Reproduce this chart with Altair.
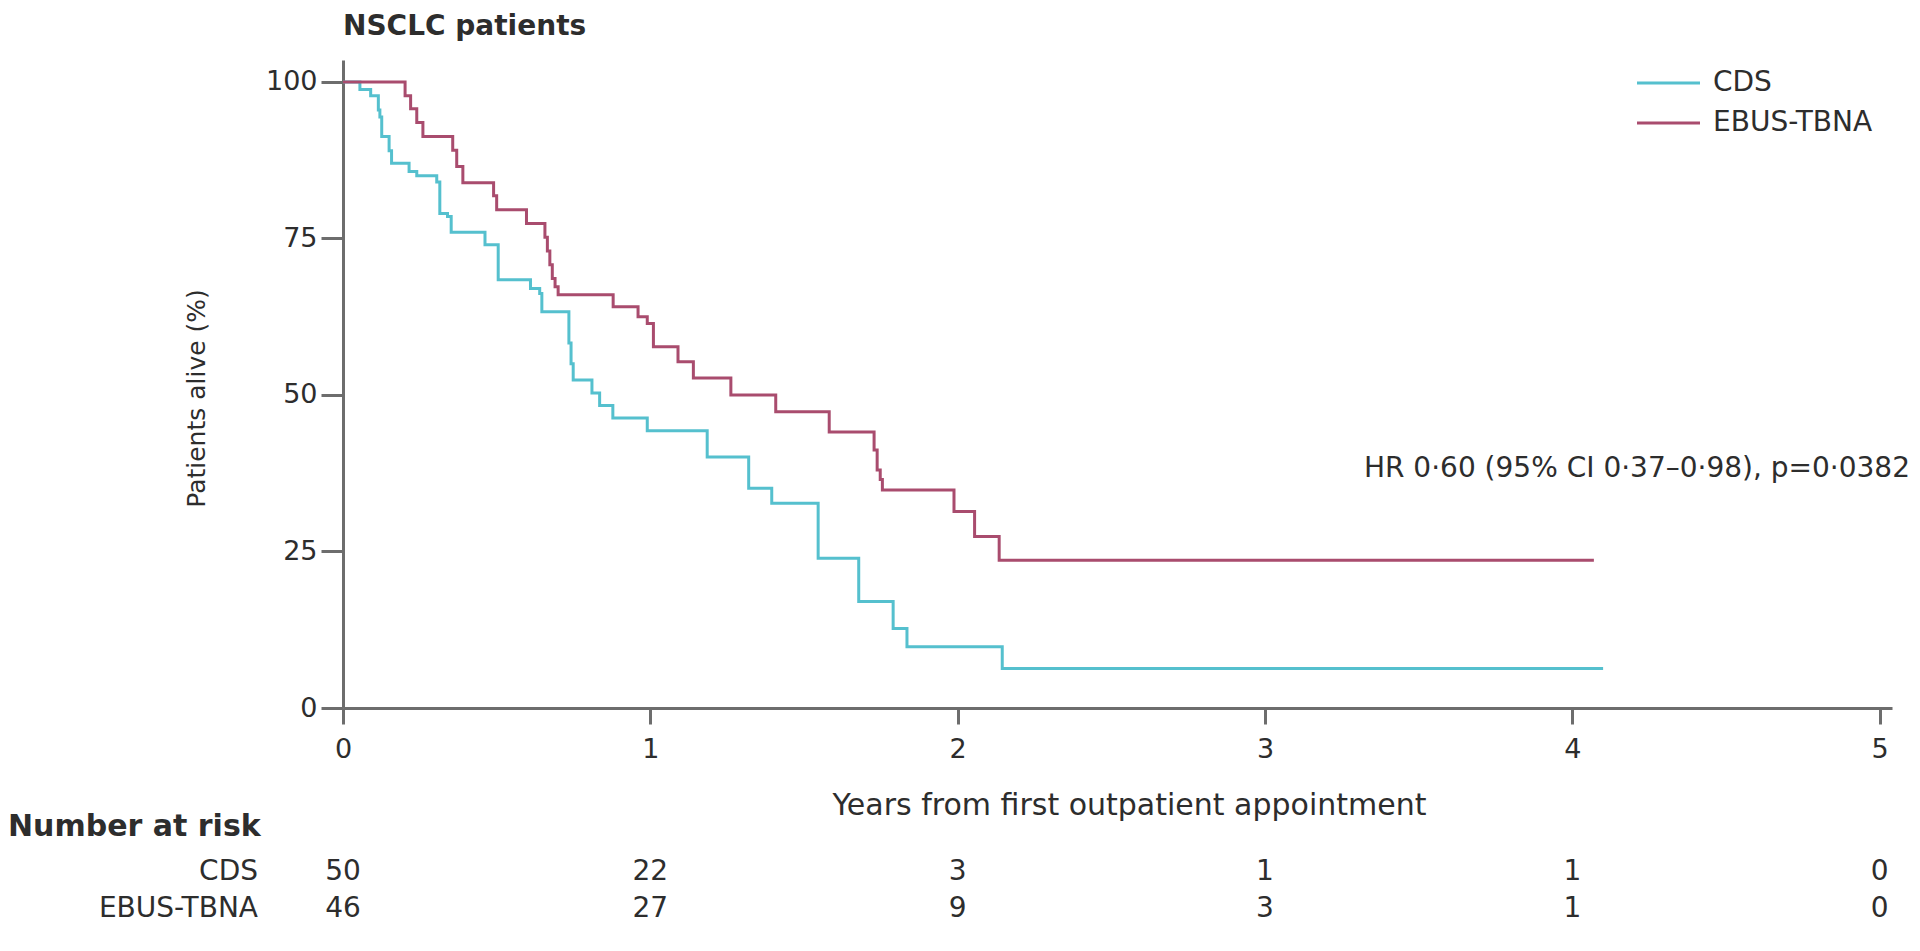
import altair as alt
import pandas as pd

# ---- data ----
series = ["CDS", "EBUS-TBNA"]
colors = ["#55c0ce", "#a94c6e"]

cds_years = [0, 0.055, 0.09, 0.115, 0.12, 0.126, 0.15, 0.158, 0.215, 0.24, 0.305, 0.315,
             0.34, 0.352, 0.462, 0.505, 0.61, 0.64, 0.647, 0.735, 0.742, 0.749, 0.81,
             0.835, 0.878, 0.99, 1.185, 1.32, 1.395, 1.546, 1.678, 1.79, 1.835, 2.145, 4.10]
cds_surv = [100, 98.8, 97.8, 95.5, 94.4, 91.3, 89.0, 87.0, 85.7, 85.0, 84.0, 79.0,
            78.5, 76.0, 74.0, 68.4, 67.0, 66.2, 63.3, 58.3, 55.0, 52.4, 50.3,
            48.3, 46.3, 44.3, 40.1, 35.1, 32.7, 23.9, 17.0, 12.7, 9.8, 6.3, 6.3]

ebus_years = [0, 0.202, 0.22, 0.24, 0.26, 0.357, 0.37, 0.39, 0.49, 0.50, 0.597, 0.657,
              0.665, 0.673, 0.681, 0.69, 0.70, 0.879, 0.96, 0.99, 1.01, 1.09, 1.14, 1.262,
              1.408, 1.582, 1.728, 1.738, 1.748, 1.755, 1.988, 2.055, 2.135, 4.07]
ebus_surv = [100, 97.8, 95.7, 93.5, 91.3, 89.1, 86.5, 83.9, 81.8, 79.6, 77.4, 75.2,
             73.0, 70.8, 68.6, 67.3, 66.0, 64.1, 62.5, 61.4, 57.7, 55.3, 52.7, 50.0,
             47.3, 44.1, 41.2, 38.0, 36.5, 34.8, 31.4, 27.4, 23.6, 23.6]

risk_years = [0, 1, 2, 3, 4, 5]
risk_cds = [50, 22, 3, 1, 1, 0]
risk_ebus = [46, 27, 9, 3, 1, 0]

x_ticks = [0, 1, 2, 3, 4, 5]
y_ticks = [0, 25, 50, 75, 100]

title_text = "NSCLC patients"
x_title = "Years from first outpatient appointment"
y_title = "Patients alive (%)"
hr_text = "HR 0·60 (95% CI 0·37–0·98), p=0·0382"
risk_header = "Number at risk"

# ---- styling ----
W, H = 1549, 648
FONT = "DejaVu Sans"
TEXT = "#2d2d2d"
AXIS = "#6d6d6d"

curves = pd.concat([
    pd.DataFrame({"year": cds_years, "surv": cds_surv, "group": "CDS"}),
    pd.DataFrame({"year": ebus_years, "surv": ebus_surv, "group": "EBUS-TBNA"}),
])

xscale = alt.Scale(domain=[0, 5.04], nice=False, zero=False)
yscale = alt.Scale(domain=[0, 103.5], nice=False)
cscale = alt.Scale(domain=series, range=colors)

x_axis = alt.Axis(values=x_ticks, format="d", title=x_title, grid=False, domainColor=AXIS,
                  domainWidth=3, tickColor=AXIS, tickWidth=3, tickSize=16, labelFontSize=27,
                  labelFont=FONT, labelColor=TEXT, labelPadding=12, labelFlush=False,
                  titleFont=FONT, titleFontSize=30, titleFontWeight="normal", titleColor=TEXT,
                  titlePadding=28, titleX=786)
y_axis = alt.Axis(values=y_ticks, format="d", title=y_title, grid=False, domainColor=AXIS,
                  domainWidth=3, tickColor=AXIS, tickWidth=3, tickSize=22, labelFontSize=27,
                  labelFont=FONT, labelColor=TEXT, labelPadding=4, labelFlush=False,
                  titleFont=FONT, titleFontSize=25, titleFontWeight="normal", titleColor=TEXT,
                  titleX=-147, titleY=338, titleAngle=270, titleAlign="center",
                  titleBaseline="middle")

lines = alt.Chart(curves).mark_line(interpolate="step-after", strokeWidth=3).encode(
    x=alt.X("year:Q", scale=xscale, axis=x_axis),
    y=alt.Y("surv:Q", scale=yscale, axis=y_axis),
    color=alt.Color("group:N", scale=cscale, legend=None),
)


def label(text, x, y, size, weight="normal", align="left"):
    return alt.Chart(pd.DataFrame({"t": [text]})).mark_text(
        align=align, baseline="middle", fontSize=size, font=FONT, fontWeight=weight, color=TEXT
    ).encode(text="t:N", x=alt.value(x), y=alt.value(y))


def risk_row(values, y):
    df = pd.DataFrame({"year": risk_years, "n": values})
    return alt.Chart(df).mark_text(
        align="center", baseline="middle", fontSize=28, font=FONT, color=TEXT
    ).encode(x=alt.X("year:Q", scale=xscale), y=alt.value(y), text="n:Q")


def legend_row(name, y):
    sw = alt.Chart(pd.DataFrame({"g": [name]})).mark_rule(strokeWidth=3).encode(
        x=alt.value(1294), x2=alt.value(1357), y=alt.value(y),
        color=alt.Color("g:N", scale=cscale, legend=None),
    )
    return sw + label(name, 1370, y, 28)


chart = alt.layer(
    lines,
    label(title_text, 0, -33, 28, weight="bold"),
    legend_row(series[0], 23),
    legend_row(series[1], 63),
    label(hr_text, 1567, 409, 28, align="right"),
    label(risk_header, -335, 767, 30, weight="bold"),
    label(series[0], -85, 812, 28, align="right"),
    label(series[1], -85, 849, 28, align="right"),
    risk_row(risk_cds, 812),
    risk_row(risk_ebus, 849),
).properties(
    width=W, height=H,
    autosize=alt.AutoSizeParams(type="none"),
    padding={"left": 335, "top": 52, "right": 20, "bottom": 235},
    background="white",
).configure_view(stroke=None)

chart.save("out.html", embed_options={"renderer": "svg", "actions": False})
